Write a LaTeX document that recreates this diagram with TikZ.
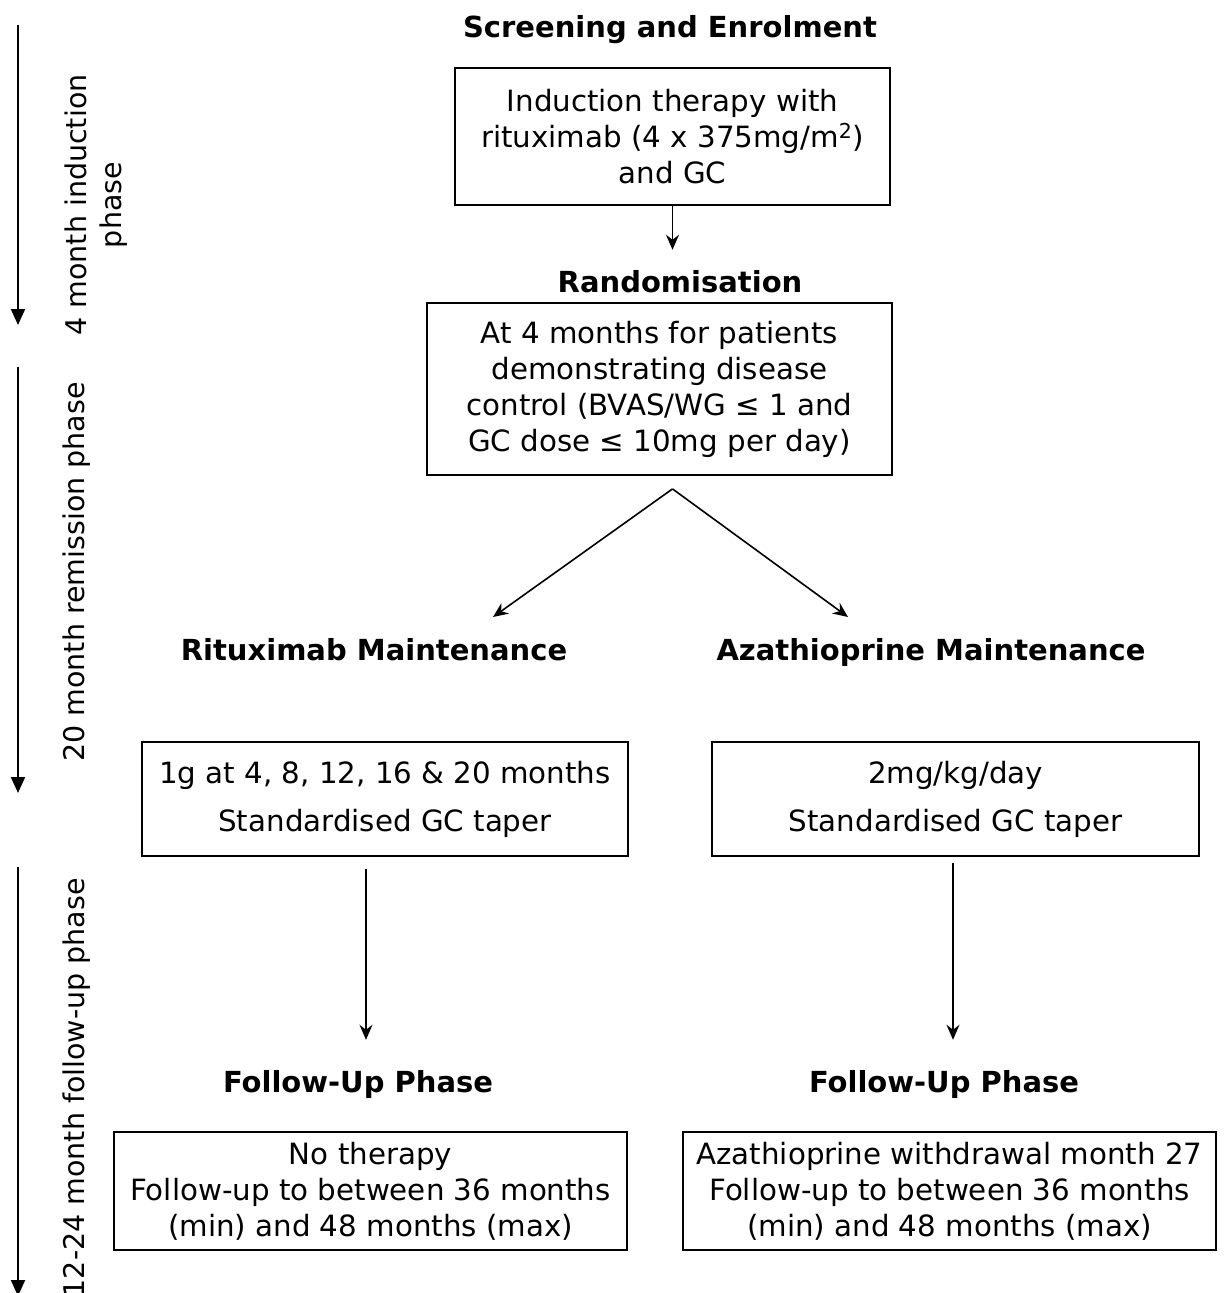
\documentclass[tikz,border=0pt]{standalone}
\usepackage{fontspec}
\setmainfont{DejaVu Sans}
\usetikzlibrary{arrows.meta}

\begin{document}
\begin{tikzpicture}[
    x=1pt, y=-1pt,
    every node/.style={font=\fontsize{29.3}{36}\selectfont},
    head/.style={font=\fontsize{29}{36}\selectfont\bfseries, anchor=base, inner sep=0pt},
    box/.style={draw, line width=1.8pt, align=center, inner sep=0pt},
    phase/.style={rotate=90, align=center, inner sep=0pt, font=\fontsize{28.5}{35}\selectfont},
    arr/.style={line width=1.6pt, -{Stealth[length=15pt, width=13pt, inset=5pt]}},
    phasearr/.style={line width=2pt, -{Triangle[length=16pt, width=14pt]}}
  ]
  \useasboundingbox (0,0) rectangle (1226,1293);

  \node[head] (screen) at (670,37) {Screening and Enrolment};
  \node[box, minimum width=435pt, minimum height=137pt] (induct) at (672.5,136.5)
    {Induction therapy with\\rituximab (4 x 375mg/m\textsuperscript{2})\\and GC};
  \node[head] (rand) at (680,292) {Randomisation};
  \node[box, minimum width=465pt, minimum height=172pt] (control) at (659.5,389)
    {At 4 months for patients\\demonstrating disease\\control (BVAS/WG ≤ 1 and\\GC dose ≤ 10mg per day)};

  \node[head] (rtxhead) at (374,660) {Rituximab Maintenance};
  \node[head] (azahead) at (931,660) {Azathioprine Maintenance};
  \node[box, minimum width=486pt, minimum height=114pt] (rtxbox) at (385,799)
    {1g at 4, 8, 12, 16 \& 20 months\\[12pt]Standardised GC taper};
  \node[box, minimum width=487pt, minimum height=114pt] (azabox) at (955.5,799)
    {2mg/kg/day\\[12pt]Standardised GC taper};

  \node[head] (rtxfu) at (358,1092) {Follow-Up Phase};
  \node[head] (azafu) at (944,1092) {Follow-Up Phase};
  \node[box, minimum width=513pt, minimum height=118pt] (rtxend) at (370.5,1191)
    {No therapy\\Follow-up to between 36 months\\(min) and 48 months (max)};
  \node[box, minimum width=533pt, minimum height=118pt] (azaend) at (949.5,1191)
    {Azathioprine withdrawal month 27\\Follow-up to between 36 months\\(min) and 48 months (max)};

  \node[phase] (indphase) at (96,205) {4 month induction\\phase};
  \node[phase] (remphase) at (77,572) {20 month remission phase};
  \node[phase, anchor=east] (fuphase) at (77,878) {12-24 month follow-up phase};

  \coordinate (split) at ([yshift=-13pt]control.south -| induct.south);
  \coordinate (rtxtip) at (493,617);
  \coordinate (azatip) at (848,617);
  \coordinate (indtop) at (18,25);
  \coordinate (indend) at (18,325);
  \coordinate (remtop) at (18,367);
  \coordinate (remend) at (18,793);
  \coordinate (futop) at (18,867);
  \coordinate (fuend) at (18,1296);

  \draw[arr, shorten >=20pt] (induct.south) -- (induct.south |- rand.north);
  \draw[arr] (split) -- (rtxtip);
  \draw[arr] (split) -- (azatip);
  \draw[arr, shorten >=30pt] ([xshift=-19pt, yshift=-12pt]rtxbox.south) -- ([xshift=8pt]rtxfu.north);
  \draw[arr, shorten >=30pt] ([xshift=-2.5pt, yshift=-6pt]azabox.south) -- ([xshift=9pt]azafu.north);

  \draw[phasearr] (indtop) -- (indend);
  \draw[phasearr] (remtop) -- (remend);
  \draw[phasearr] (futop) -- (fuend);
\end{tikzpicture}
\end{document}
